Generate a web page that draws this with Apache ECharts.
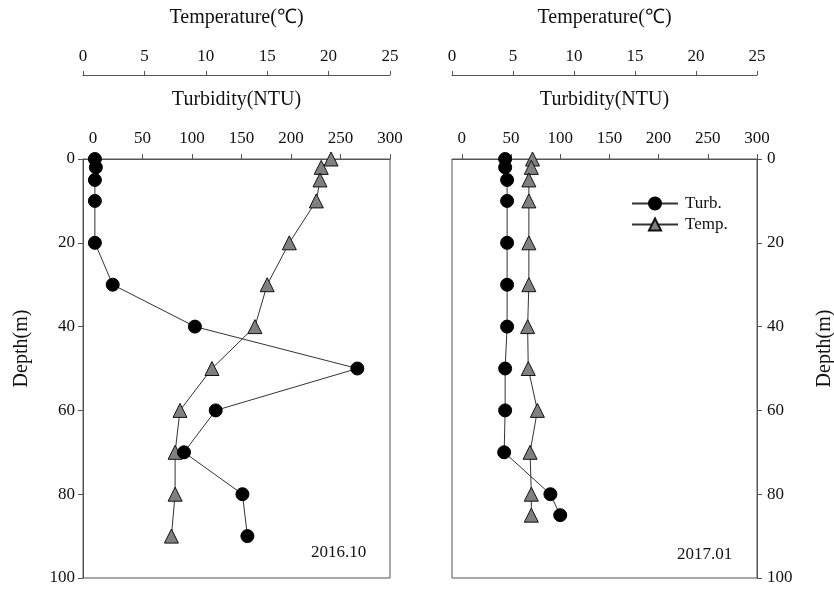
<!DOCTYPE html>
<html>
<head>
<meta charset="utf-8">
<script src="https://cdn.jsdelivr.net/npm/echarts@6/dist/echarts.min.js"></script>
<style>html,body{margin:0;padding:0;background:#fff}#c{width:834px;height:589px}</style>
</head>
<body>
<div id="c"></div>
<script>
// Panel 2016.10
var depthA = [0, 2, 5, 10, 20, 30, 40, 50, 60, 70, 80, 90];
var turbA  = [2, 3, 2, 2, 2, 20, 103, 267, 124, 92, 151, 156];
var tempA  = [20.2, 19.4, 19.3, 19.0, 16.8, 15.0, 14.0, 10.5, 7.9, 7.5, 7.5, 7.2];
// Panel 2017.01
var depthB = [0, 2, 5, 10, 20, 30, 40, 50, 60, 70, 80, 85];
var turbB  = [44, 44, 46, 46, 46, 46, 46, 44, 44, 43, 90, 100];
var tempB  = [6.6, 6.5, 6.3, 6.3, 6.3, 6.3, 6.2, 6.25, 7.0, 6.4, 6.5, 6.5];
// Tick labels
var turbTicks = [0, 50, 100, 150, 200, 250, 300];
var panelLabels = ['2016.10', '2017.01'];
var seriesNames = ['Turb.', 'Temp.'];

function pairs(xs, ys) { return xs.map(function (x, i) { return [x, ys[i]]; }); }

var FONT = 'Liberation Serif';
var axisCol = '#555';
var nameTxt = { color: '#111', fontFamily: FONT, fontSize: 20 };

function turbAxis(grid) {
  return {
    type: 'value', gridIndex: grid, position: 'top', min: -10, max: 300,
    name: 'Turbidity(NTU)', nameLocation: 'middle', nameGap: 49, nameTextStyle: nameTxt,
    axisLine: { show: true, onZero: false, lineStyle: { color: axisCol } },
    axisTick: { show: true, length: 5, customValues: turbTicks, lineStyle: { color: axisCol } },
    axisLabel: { customValues: turbTicks, margin: 12, color: '#111', fontFamily: FONT, fontSize: 17 },
    splitLine: { show: false }
  };
}
function tempAxis(grid) {
  return {
    type: 'value', gridIndex: grid, position: 'top', offset: 84, min: 0, max: 25, interval: 5,
    name: 'Temperature(℃)', nameLocation: 'middle', nameGap: 47, nameTextStyle: nameTxt,
    axisLine: { show: true, onZero: false, lineStyle: { color: axisCol } },
    axisTick: { show: true, length: 4, lineStyle: { color: axisCol } },
    axisLabel: { margin: 10, color: '#111', fontFamily: FONT, fontSize: 17 },
    splitLine: { show: false }
  };
}
function depthAxis(grid, pos) {
  return {
    type: 'value', gridIndex: grid, position: pos, inverse: true, min: 0, max: 100, interval: 20,
    name: 'Depth(m)', nameLocation: 'middle', nameRotate: 90, nameGap: pos === 'left' ? 51 : 58,
    nameTextStyle: Object.assign({}, nameTxt, { padding: [0, 0, 0, 40] }),
    axisLine: { show: true, onZero: false, lineStyle: { color: axisCol } },
    axisTick: { show: true, length: 5, lineStyle: { color: axisCol } },
    axisLabel: { margin: pos === 'left' ? 8 : 10, color: '#111', fontFamily: FONT, fontSize: 17 },
    splitLine: { show: false }
  };
}
var lineStyle = { color: '#333', width: 1 };
var turbItem = { color: '#000', borderColor: '#000', borderWidth: 1 };
var tempItem = { color: '#808080', borderColor: '#111', borderWidth: 1 };

function mk(name, xi, yi, data, sym, size, item) {
  return { name: name, type: 'line', xAxisIndex: xi, yAxisIndex: yi, data: data,
    symbol: sym, symbolSize: size, showSymbol: true, lineStyle: lineStyle, itemStyle: item,
    animation: false, z: sym === 'circle' ? 3 : 2 };
}

var gridBase = { top: 159, bottom: 11, show: true, borderColor: axisCol, borderWidth: 1,
  backgroundColor: 'transparent', containLabel: false, outerBoundsMode: 'none' };

var option = {
  animation: false,
  grid: [
    Object.assign({ left: 83, right: 444 }, gridBase),
    Object.assign({ left: 452, right: 77 }, gridBase)
  ],
  xAxis: [turbAxis(0), tempAxis(0), turbAxis(1), tempAxis(1)],
  yAxis: [depthAxis(0, 'left'), depthAxis(1, 'right')],
  legend: {
    data: seriesNames,
    orient: 'vertical', left: 626, top: 190, itemWidth: 46, itemHeight: 15, itemGap: 4,
    textStyle: { color: '#111', fontFamily: FONT, fontSize: 17, padding: [0, 0, 0, 2] }
  },
  series: [
    mk(seriesNames[0], 0, 0, pairs(turbA, depthA), 'circle', 13, turbItem),
    mk(seriesNames[1], 1, 0, pairs(tempA, depthA), 'triangle', 14, tempItem),
    mk(seriesNames[0], 2, 1, pairs(turbB, depthB), 'circle', 13, turbItem),
    mk(seriesNames[1], 3, 1, pairs(tempB, depthB), 'triangle', 14, tempItem)
  ],
  graphic: [
    { type: 'text', left: 311, top: 544, style: { text: panelLabels[0], fill: '#111', font: '17px "Liberation Serif"' } },
    { type: 'text', left: 677, top: 546, style: { text: panelLabels[1], fill: '#111', font: '17px "Liberation Serif"' } }
  ]
};
var chart = echarts.init(document.getElementById('c'), null, { renderer: 'canvas' });
chart.setOption(option);
</script>
</body>
</html>
